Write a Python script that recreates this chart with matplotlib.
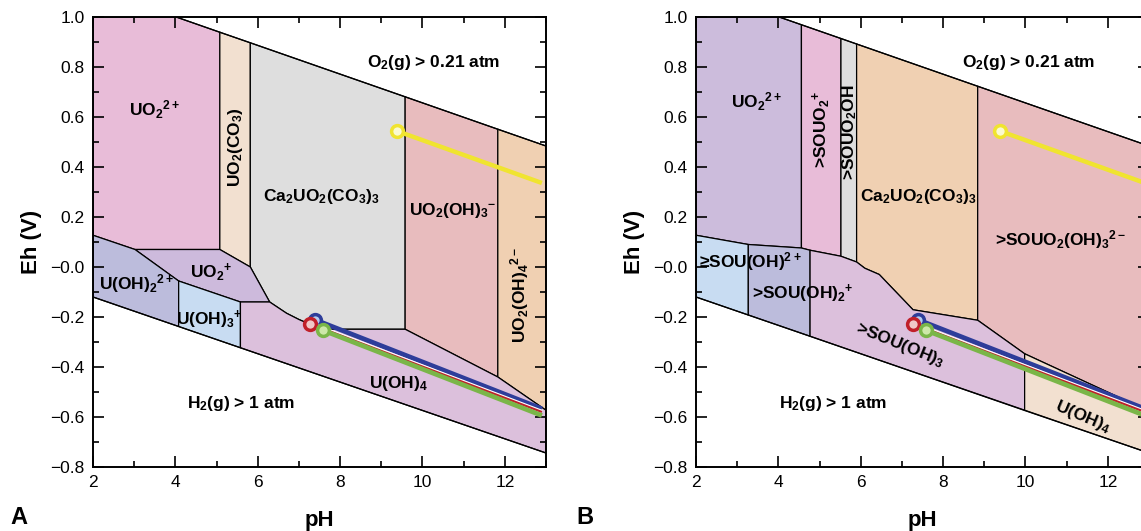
"""
Eh-pH diagrams of uranium speciation, aqueous (A) and with surface species (B)
"""
import matplotlib
matplotlib.use('Agg')
import matplotlib.pyplot as plt
import matplotlib.patheffects as pe
from matplotlib.patches import Polygon
from matplotlib.ticker import MultipleLocator

plt.rcParams['font.family'] = ['Liberation Sans', 'DejaVu Sans']
plt.rcParams['mathtext.fontset'] = 'custom'
plt.rcParams['mathtext.rm'] = 'Liberation Sans'
plt.rcParams['mathtext.bf'] = 'Liberation Sans:bold'
plt.rcParams['mathtext.default'] = 'regular'

LABELSIZE = 12.5

# ---- data (pH, Eh) ----
yticks = [-0.8, -0.6, -0.4, -0.2, 0.0, 0.2, 0.4, 0.6, 0.8, 1.0]
yticklabels = ['\u22120.8', '\u22120.6', '\u22120.4', '\u22120.2', '\u22120.0',
               '0.2', '0.4', '0.6', '0.8', '1.0']
xticks = [2, 4, 6, 8, 10, 12]

# panel A fields
A_UO2 = [(2, 1.0), (4.02, 1.0), (5.08, 0.939), (5.08, 0.07), (3.02, 0.07), (2, 0.127)]
A_UO2CO3 = [(5.08, 0.939), (5.82, 0.897), (5.82, 0.0), (5.08, 0.07)]
A_CaUO2CO3 = [(5.82, 0.897), (9.58, 0.681), (9.58, -0.249), (7.7, -0.249), (7.35, -0.235),
              (7.0, -0.21), (6.7, -0.185), (6.29, -0.14), (5.82, 0.0)]
A_UO2OH3 = [(9.58, 0.681), (11.83, 0.551), (11.83, -0.44), (9.58, -0.249)]
A_UO2OH4 = [(11.83, 0.551), (13, 0.484), (13, -0.573), (11.83, -0.44)]
A_UO2p = [(3.02, 0.07), (5.08, 0.07), (5.82, 0.0), (6.29, -0.14), (5.58, -0.14), (4.08, -0.056)]
A_UOH2 = [(2, 0.127), (3.02, 0.07), (4.08, -0.056), (4.08, -0.238), (2, -0.12)]
A_UOH3 = [(4.08, -0.056), (5.58, -0.14), (5.58, -0.323), (4.08, -0.238)]
A_UOH4 = [(5.58, -0.14), (6.29, -0.14), (6.7, -0.185), (7.0, -0.21), (7.35, -0.235),
          (7.7, -0.249), (9.58, -0.249), (11.83, -0.44), (13, -0.573), (13, -0.744),
          (5.58, -0.323)]

# panel B fields
B_UO2 = [(2, 1.0), (4.02, 1.0), (4.56, 0.969), (4.56, 0.076), (3.27, 0.09), (2, 0.127)]
B_SOUO2 = [(4.56, 0.969), (5.52, 0.914), (5.52, 0.043), (4.77, 0.067), (4.56, 0.076)]
B_SOUO2OH = [(5.52, 0.914), (5.90, 0.892), (5.90, 0.02), (5.52, 0.043)]
B_CaUO2CO3 = [(5.90, 0.892), (8.84, 0.723), (8.84, -0.213), (7.27, -0.171), (6.45, -0.03),
              (6.1, -0.005), (5.90, 0.02)]
B_SOUO2OH3 = [(8.84, 0.723), (13, 0.484), (13, -0.577), (9.98, -0.347), (8.84, -0.213)]
B_SOUOH = [(2, 0.127), (3.27, 0.09), (3.27, -0.192), (2, -0.12)]
B_SOUOH2 = [(3.27, 0.09), (4.56, 0.076), (4.77, 0.067), (4.77, -0.277), (3.27, -0.192)]
B_SOUOH3 = [(4.77, 0.067), (5.52, 0.043), (5.90, 0.02), (6.1, -0.005), (6.45, -0.03),
            (7.27, -0.171), (8.84, -0.213), (9.98, -0.347), (9.98, -0.574), (4.77, -0.277)]
B_UOH4 = [(9.98, -0.347), (13, -0.577), (13, -0.744), (9.98, -0.574)]

# water stability limits
o2_line = [(4.02, 1.0), (13, 0.484)]
h2_line = [(2, -0.12), (13, -0.744)]

# Eh-pH paths of the solutions
yellow_path = [(9.38, 0.544), (12.9, 0.336)]
red_path = [(7.28, -0.228), (12.9, -0.580)]
blue_path = [(7.39, -0.211), (12.9, -0.567)]
green_path = [(7.58, -0.253), (12.9, -0.594)]

fields_A = [
    (A_UO2, '#e8bcd8', r'UO$_2$$^{2+}$', 3.5, 0.63, 0),
    (A_UO2CO3, '#f2e0d0', r'UO$_2$(CO$_3$)', 5.45, 0.48, 90),
    (A_CaUO2CO3, '#dedede', r'Ca$_2$UO$_2$(CO$_3$)$_3$', 7.55, 0.28, 0),
    (A_UO2OH3, '#e8bcbe', r'UO$_2$(OH)$_3$$^{-}$', 10.72, 0.225, 0),
    (A_UO2OH4, '#f0d0b2', r'UO$_2$(OH)$_4$$^{2-}$', 12.35, -0.11, 90),
    (A_UO2p, '#cdbadc', r'UO$_2$$^{+}$', 4.87, -0.02, 0),
    (A_UOH2, '#bcbcdc', r'U(OH)$_2$$^{2+}$', 3.06, -0.065, 0),
    (A_UOH3, '#c8dcf2', r'U(OH)$_3$$^{+}$', 4.83, -0.21, 0),
    (A_UOH4, '#dcc0dc', r'U(OH)$_4$', 9.43, -0.465, 0),
]
fields_B = [
    (B_UO2, '#ccbcdc', r'UO$_2$$^{2+}$', 3.47, 0.66, 0),
    (B_SOUO2, '#e8bcd8', r'>SOUO$_2$$^{+}$', 5.04, 0.55, 90),
    (B_SOUO2OH, '#dedede', r'>SOUO$_2$OH', 5.74, 0.54, 90),
    (B_CaUO2CO3, '#f0d0b2', r'Ca$_2$UO$_2$(CO$_3$)$_3$', 7.39, 0.28, 0),
    (B_SOUO2OH3, '#e8bcbe', r'>SOUO$_2$(OH)$_3$$^{2-}$', 10.85, 0.11, 0),
    (B_SOUOH, '#c8dcf2', '\u2265SOU(OH)$^{2+}$', 3.31, 0.02, 0),
    (B_SOUOH2, '#bcbcdc', r'>SOU(OH)$_2$$^{+}$', 4.6, -0.107, 0),
    (B_SOUOH3, '#dcc0dc', r'>SOU(OH)$_3$', 6.95, -0.31, -22),
    (B_UOH4, '#f2e0d0', r'U(OH)$_4$', 11.4, -0.6, -23),
]

W, H = 1141, 531
fig = plt.figure(figsize=(W / 100, H / 100), dpi=100)
ax_A = fig.add_axes([93 / W, 64 / H, 453 / W, 450 / H])
ax_B = fig.add_axes([696 / W, 64 / H, 453 / W, 450 / H])


def draw_path(ax, path, color, face, lw, z, outline=False):
    xs = [p[0] for p in path]
    ys = [p[1] for p in path]
    effects = [pe.Stroke(linewidth=lw + 1.6, foreground='white'), pe.Normal()] if outline else None
    ax.plot(xs, ys, color=color, lw=lw, solid_capstyle='butt', zorder=z,
            path_effects=effects)
    ax.plot(xs[:1], ys[:1], 'o', ms=8.5, mec=color, mfc=face, mew=2.5, zorder=z + 0.5)


def set_plot(ax, fields, o2_label_x, h2_label_x):
    for verts, col, label, lx, ly, rot in fields:
        ax.add_patch(Polygon(verts, closed=True, facecolor=col, edgecolor='black',
                             lw=0.9, zorder=1))
        ax.text(lx, ly, label, fontsize=LABELSIZE, fontweight='bold', rotation=rot,
                ha='center', va='center', zorder=3, rotation_mode='anchor')
    for line in (o2_line, h2_line):
        ax.plot([p[0] for p in line], [p[1] for p in line], color='black', lw=0.9, zorder=2)
    ax.text(o2_label_x, 0.82, r'O$_2$(g) > 0.21 atm', fontsize=LABELSIZE, fontweight='bold',
            ha='center', va='center')
    ax.text(h2_label_x, -0.545, r'H$_2$(g) > 1 atm', fontsize=LABELSIZE, fontweight='bold',
            ha='center', va='center')

    draw_path(ax, yellow_path, '#f0e430', '#fafad0', 3.2, 5)
    draw_path(ax, red_path, '#c0202a', '#f0c8c8', 1.6, 6, outline=True)
    draw_path(ax, blue_path, '#2e3d9a', '#b4ccf0', 3.4, 5.2)
    draw_path(ax, green_path, '#7ab648', '#cde8a8', 3.4, 7)

    ax.set_xlim(2, 13)
    ax.set_ylim(-0.8, 1.0)
    ax.set_xticks(xticks)
    ax.set_yticks(yticks)
    ax.set_yticklabels(yticklabels)
    ax.xaxis.set_minor_locator(MultipleLocator(1))
    ax.yaxis.set_minor_locator(MultipleLocator(0.1))
    ax.tick_params(which='both', direction='in', top=True, right=True, labelsize=12.5,
                   width=1.2, pad=6)
    ax.tick_params(which='major', length=8)
    ax.tick_params(which='minor', length=4.5)
    for s in ax.spines.values():
        s.set_linewidth(1.4)
        s.set_zorder(10)
    ax.set_xlabel('pH', fontsize=16, fontweight='bold', labelpad=14)
    ax.set_ylabel('Eh (V)', fontsize=16, fontweight='bold', labelpad=6)


set_plot(ax_A, fields_A, 10.28, 5.6)
set_plot(ax_B, fields_B, 10.07, 5.33)

fig.text(10 / W, 2 / H, 'A', fontsize=17, fontweight='bold', ha='left', va='bottom')
fig.text(576 / W, 2 / H, 'B', fontsize=17, fontweight='bold', ha='left', va='bottom')

fig.savefig('out.png', dpi=100)
